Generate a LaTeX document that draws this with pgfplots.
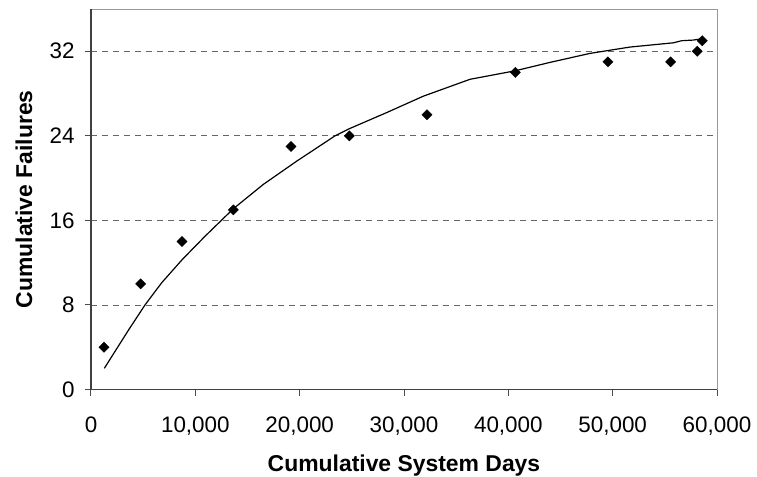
\documentclass[border=0pt]{standalone}
\usepackage{pgfplots}
\pgfplotsset{compat=1.18}
\usepackage{fontspec}
\setmainfont{Liberation Sans}
\begin{document}
\begin{tikzpicture}
\begin{axis}[
  scale only axis,
  width=626bp, height=380.5bp,
  xmin=0, xmax=60000, ymin=0, ymax=36,
  xtick={0,10000,20000,30000,40000,50000,60000},
  ytick={0,8,16,24,32},
  scaled x ticks=false,
  /pgf/number format/.cd, 1000 sep={,}, assume math mode=true, /pgfplots/.cd,
  tick pos=left,
  tick align=outside,
  major tick length=6bp,
  tick style={color=black!70, line width=1bp},
  axis line style={color=black!40, line width=1bp},
  ymajorgrids,
  grid style={color=black!60, dash pattern=on 6bp off 5bp, line width=0.8bp},
  ticklabel style={font=\fontsize{22.5}{26}\selectfont, text=black},
  xlabel={Cumulative System Days},
  ylabel={Cumulative Failures},
  label style={font=\fontsize{23}{27}\selectfont\bfseries},
  xlabel style={at={(axis description cs:0.5,-0.199)}, anchor=center},
  ylabel style={at={(axis description cs:-0.107,0.5)}, anchor=center},
  xticklabel style={yshift=-18bp},
  yticklabel style={xshift=-7bp},
  clip=false,
]
\addplot[black, line width=1.2bp, mark=none] coordinates {
(1275,2.0) (3580,5.6) (5176,8.0) (6776,10.1) (8750,12.3) (10930,14.5)
(13640,17.1) (16510,19.4) (19710,21.6) (23390,24.0) (24820,24.7)
(28340,26.2) (31850,27.75) (36330,29.35) (40640,30.15) (44000,30.95)
(47830,31.8) (51660,32.4) (55810,32.8) (56610,33.0) (57730,33.06) (58620,33.2)
};
\addplot[only marks, mark=square*, mark size=3.6bp, mark options={rotate=45, fill=black, draw=black}] coordinates {
(1246,4) (4760,10) (8722,14) (13640,17) (19170,23) (24760,24)
(32200,26) (40670,30) (49550,31) (55560,31) (58110,32) (58590,33)
};
\draw[color=black!75, line width=1.4bp] (rel axis cs:0,1) -- (rel axis cs:0,0) -- (rel axis cs:1,0);
\end{axis}
\pgfresetboundingbox
\path (current axis.south west) ++(-91bp,-87.5bp) rectangle ([xshift=40bp,yshift=9bp]current axis.north east);
\end{tikzpicture}
\end{document}
